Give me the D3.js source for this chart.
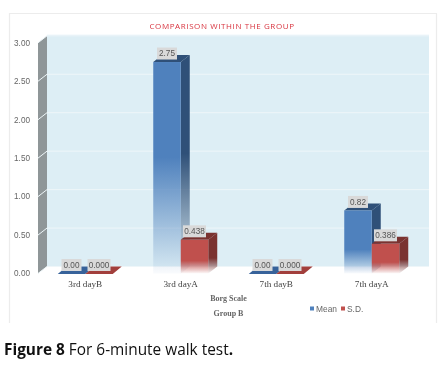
<!DOCTYPE html>
<html><head><meta charset="utf-8">
<script src="https://cdn.jsdelivr.net/npm/d3@7"></script>
<style>html,body{margin:0;padding:0;background:#fff}svg{display:block;filter:blur(0.3px)}</style>
</head><body><div id="c"></div>
<script>
const categories = ["3rd dayB","3rd dayA","7th dayB","7th dayA"];
const meanValues = [0, 2.75, 0, 0.82];
const sdValues = [0, 0.438, 0, 0.386];
const meanLabels = ["0.00","2.75","0.00","0.82"];
const sdLabels = ["0.000","0.438","0.000","0.386"];
const yTicks = [0,0.5,1,1.5,2,2.5,3];
const seriesNames = ["Mean","S.D."];

const W=440,H=369;
const dx=9,dy=-7;
const svg=d3.select("#c").append("svg").attr("width",W).attr("height",H);
const x=d3.scaleBand().domain(categories).range([37.5,419.5]);
const y=d3.scaleLinear().domain([0,3]).range([273.5,42.8]);
const defs=svg.append("defs");
const colors={Mean:{f:"#4f81bd",s:"#2f5078",t:"#37629a"},"S.D.":{f:"#c0504d",s:"#7a3230",t:"#a23f3c"}};
function grad(id,c,stop){
  const g=defs.append("linearGradient").attr("id",id).attr("x1",0).attr("x2",0).attr("y1",0).attr("y2",1);
  g.append("stop").attr("offset",0).attr("stop-color",c);
  g.append("stop").attr("offset",stop).attr("stop-color",c);
  g.append("stop").attr("offset",1).attr("stop-color",c).attr("stop-opacity",0.03);
}
categories.forEach((c,i)=>{
  seriesNames.forEach((s,k)=>{
    const v=k?sdValues[i]:meanValues[i];
    if(v>0){
      const st=k?0.62:(v>2?0.45:0.62);
      grad(`f${i}${k}`,colors[s].f,st);
      grad(`s${i}${k}`,colors[s].s,st);
    }
  });
});

// frame
svg.append("path").attr("d","M9.5,323V13.5H436.5V323").attr("fill","none").attr("stroke","#ececec").attr("stroke-width",1.2);

// walls
const y0=y(0),y3=y(3),xL=38,xR=429;
svg.append("path").attr("d",`M${xL+dx},${y3+dy-1}H${xR}V${y0+dy}H${xL+dx}Z`).attr("fill","#ddeef5");
svg.append("path").attr("d",`M${xL},${y3}L${xL+dx},${y3+dy}V${y0+dy}L${xL},${y0}Z`).attr("fill","#8f9698");
svg.append("g").selectAll("path").data(yTicks).join("path")
  .attr("d",d=>`M${xL},${y(d)}L${xL+dx},${y(d)+dy}H${xR}`)
  .attr("fill","none").attr("stroke","#eef6f9").attr("stroke-width",1);

// y tick labels
svg.append("g").selectAll("text").data(yTicks).join("text")
  .attr("x",30).attr("y",d=>y(d)+2.8).attr("text-anchor","end")
  .attr("font-family","Liberation Sans").attr("font-size",8.2).attr("fill","#666")
  .text(d=>d3.format(".2f")(d));

// bars
const barW=27.5;
const rows=[];
categories.forEach((c,i)=>{
  rows.push({c,i,k:0,s:"Mean",v:meanValues[i],l:meanLabels[i]});
  rows.push({c,i,k:1,s:"S.D.",v:sdValues[i],l:sdLabels[i]});
});
const bx=d=>x(d.c)+x.bandwidth()/2-barW+d.k*barW;
const g=svg.append("g");
rows.forEach(d=>{
  const X=bx(d),T=y(d.v),C=colors[d.s];
  if(d.v>0){
    g.append("path").attr("d",`M${X+barW},${T}L${X+barW+dx},${T+dy}V${y0+dy}L${X+barW},${y0}Z`).attr("fill",`url(#s${d.i}${d.k})`);
    g.append("path").attr("d",`M${X},${T}L${X+dx},${T+dy}H${X+barW+dx}L${X+barW},${T}Z`).attr("fill",C.s);
    g.append("rect").attr("x",X).attr("y",T).attr("width",barW).attr("height",y0-T).attr("fill",`url(#f${d.i}${d.k})`);
  } else {
    g.append("path").attr("d",`M${X},${T+0.5}L${X+dx},${T+dy}H${X+barW+dx}L${X+barW},${T+0.5}Z`).attr("fill",C.t);
  }
});
// value labels
rows.forEach(d=>{
  const cx=bx(d)+barW/2, T=y(d.v), w=d.l.length>4?23:20;
  g.append("rect").attr("x",cx-w/2).attr("y",T-14.5).attr("width",w).attr("height",12).attr("fill","#d9d9d9");
  g.append("text").attr("x",cx).attr("y",T-5.6).attr("text-anchor","middle")
    .attr("font-family","Liberation Sans").attr("font-size",8.2).attr("fill","#555").text(d.l);
});

// category labels
svg.append("g").selectAll("text").data(categories).join("text")
  .attr("x",d=>x(d)+x.bandwidth()/2).attr("y",287).attr("text-anchor","middle")
  .attr("font-family","Liberation Serif").attr("font-size",9.2).attr("fill","#444").text(d=>d);

// axis titles
svg.append("text").attr("x",228.5).attr("y",300.5).attr("text-anchor","middle")
  .attr("font-family","Liberation Serif").attr("font-weight","bold").attr("font-size",8).attr("fill","#666").text("Borg Scale");
svg.append("text").attr("x",228.5).attr("y",315.5).attr("text-anchor","middle")
  .attr("font-family","Liberation Serif").attr("font-weight","bold").attr("font-size",8).attr("fill","#666").text("Group B");

// title
svg.append("text").attr("x",222).attr("y",29).attr("text-anchor","middle")
  .attr("font-family","Open Sans").attr("font-size",8).attr("letter-spacing",0.6).attr("fill","#d8343f").text("COMPARISON WITHIN THE GROUP");

// legend
const lx=[310,341];
seriesNames.forEach((s,i)=>{
  svg.append("rect").attr("x",lx[i]).attr("y",306.5).attr("width",4).attr("height",4).attr("fill",colors[s].f);
  svg.append("text").attr("x",lx[i]+6).attr("y",311.5).attr("font-family","Liberation Sans").attr("font-size",8.4).attr("fill","#666").text(s);
});

// caption
const cap=svg.append("text").attr("x",4).attr("y",355).attr("font-family","Open Sans").attr("font-size",15.4).attr("fill","#111");
cap.append("tspan").attr("font-weight","bold").text("Figure 8");
cap.append("tspan").text(" For 6-minute walk test");
cap.append("tspan").attr("font-weight","bold").text(".");
</script></body></html>
